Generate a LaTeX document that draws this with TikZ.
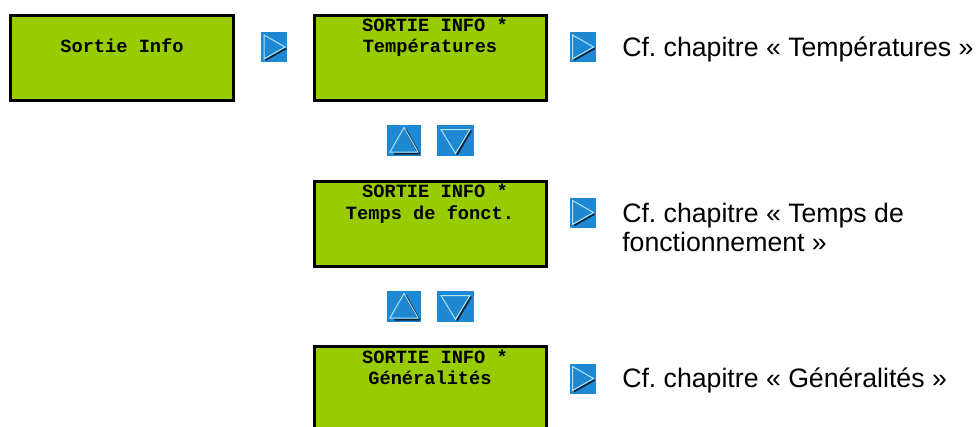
\documentclass[tikz,border=0pt]{standalone}
\usepackage{fontspec}
\setmainfont{Liberation Sans}
\newfontfamily\lcdfont{Liberation Mono}
\definecolor{lcd}{RGB}{153,204,0}
\definecolor{btnblue}{RGB}{30,136,210}
\definecolor{btnlight}{RGB}{175,228,248}
\definecolor{btndark}{RGB}{15,35,55}
\frenchspacing
\tikzset{
  lcdbox/.style={draw=black, line width=1.7pt, fill=lcd, inner sep=0pt,
    minimum width=#1*0.75pt, minimum height=63.75pt},
  lcdtxt/.style={font=\lcdfont\bfseries\fontsize{14}{16}\selectfont, inner sep=0pt, anchor=base},
  cftxt/.style={font=\frenchspacing\fontsize{20}{21.75}\selectfont, inner sep=0pt, anchor=base west, align=left},
  btn/.style={fill=btnblue, inner sep=0pt, draw=none},
  rightbtn/.style={btn, minimum width=19.5pt, minimum height=22.5pt, path picture={
    \draw[btndark, line width=1.3pt] ([shift={(12,1.5)}]path picture bounding box.center) -- ([shift={(-8.5,13)}]path picture bounding box.center);
    \draw[btnlight, line width=0.75pt, line join=miter] ([shift={(-10,-12)}]path picture bounding box.center) -- ([shift={(11,0)}]path picture bounding box.center) -- ([shift={(-10,12)}]path picture bounding box.center) -- cycle;
  }},
  upbtn/.style={btn, minimum width=25.5pt, minimum height=23.25pt, path picture={
    \draw[btndark, line width=1.5pt, line join=round] ([shift={(1.5,-11)}]path picture bounding box.center) -- ([shift={(15,13)}]path picture bounding box.center) -- ([shift={(-10,13)}]path picture bounding box.center);
    \draw[btnlight, line width=0.75pt, line join=miter] ([shift={(0,-13)}]path picture bounding box.center) -- ([shift={(14,11.5)}]path picture bounding box.center) -- ([shift={(-14,11.5)}]path picture bounding box.center) -- cycle;
  }},
  downbtn/.style={btn, minimum width=27.75pt, minimum height=23.25pt, path picture={
    \draw[btndark, line width=1.5pt, line join=round] ([shift={(15.5,-10)}]path picture bounding box.center) -- ([shift={(1.5,14)}]path picture bounding box.center);
    \draw[btnlight, line width=0.75pt, line join=miter] ([shift={(-14.5,-11)}]path picture bounding box.center) -- ([shift={(14.5,-11)}]path picture bounding box.center) -- ([shift={(0,13)}]path picture bounding box.center) -- cycle;
  }}
}
\begin{document}
\begin{tikzpicture}[x=0.75pt,y=-0.75pt]
\clip (0,0) rectangle (977,426);
\fill[white] (0,0) rectangle (977,426);
% LCD boxes
\node[lcdbox=223] (b1) at (122,58) {};
\node[lcdbox=232] (b2) at (430.5,58) {};
\node[lcdbox=232] (b3) at (430.5,224) {};
\node[lcdbox=232] (b4) at (430.5,389) {};
% LCD texts
\node[lcdtxt] (t1) at (122,52.5) {Sortie Info};
\node[lcdtxt] (t2a) at (435,31.5) {SORTIE INFO *};
\node[lcdtxt] (t2b) at (430,52.5) {Températures};
\node[lcdtxt] (t3a) at (435,197.5) {SORTIE INFO *};
\node[lcdtxt] (t3b) at (430,219) {Temps de fonct.};
\node[lcdtxt] (t4a) at (435,363.5) {SORTIE INFO *};
\node[lcdtxt] (t4b) at (430,384.5) {Généralités};
% buttons
\node[rightbtn] (r1) at (274,47) {};
\node[rightbtn] (r2) at (582.5,47) {};
\node[rightbtn] (r3) at (582.5,212.5) {};
\node[rightbtn] (r4) at (582.5,378.5) {};
\node[upbtn] (u1) at (404,140.5) {};
\node[downbtn] (d1) at (455.5,140.5) {};
\node[upbtn] (u2) at (404,306.5) {};
\node[downbtn] (d2) at (455.5,306.5) {};
% references
\node[cftxt] (c1) at (622,56) {Cf. chapitre « Températures »};
\node[cftxt] (c2) at (622,251.7) {Cf. chapitre « Temps de\\fonctionnement »};
\node[cftxt] (c3) at (622,387.3) {Cf. chapitre « Généralités »};
\end{tikzpicture}
\end{document}
